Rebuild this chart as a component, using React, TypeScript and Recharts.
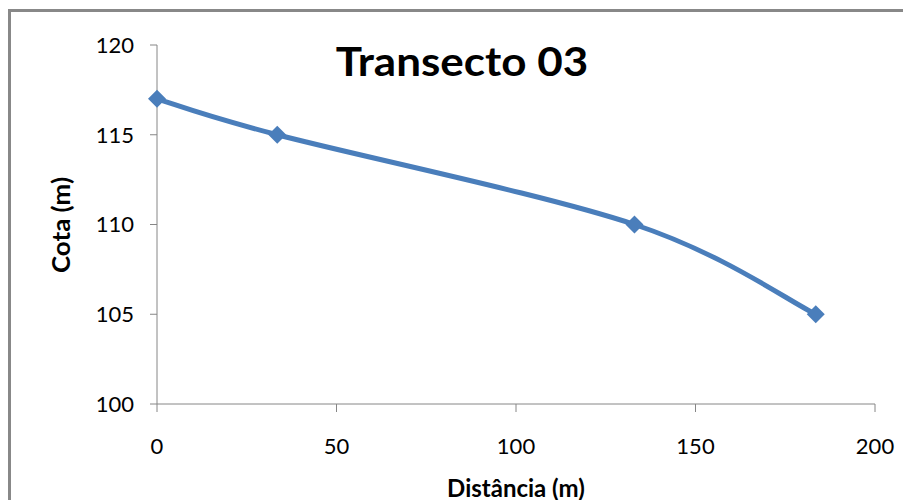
import { LineChart, Line, XAxis, YAxis } from 'recharts';

const distances = [0, 33.5, 133, 183.5];
const heights = [117, 115, 110, 105];
const xTicks = [0, 50, 100, 150, 200];
const yTicks = [100, 105, 110, 115, 120];

const data = distances.map((d, i) => ({ dist: d, cota: heights[i] }));

const BLUE = '#4a7ebb';
const AXIS = '#868686';
const FONT = 'Lato, "Liberation Sans", sans-serif';

// Catmull-Rom style smoothing (like a spreadsheet "smoothed line")
const smoothCurve = (context: any) => {
    let pts: number[][] = [];
    return {
        areaStart() {},
        areaEnd() {},
        lineStart() {
            pts = [];
        },
        point(x: number, y: number) {
            pts.push([+x, +y]);
        },
        lineEnd() {
            if (!pts.length) return;
            context.moveTo(pts[0][0], pts[0][1]);
            for (let i = 0; i < pts.length - 1; i++) {
                const p0 = pts[i - 1] || pts[i];
                const p1 = pts[i];
                const p2 = pts[i + 1];
                const p3 = pts[i + 2] || p2;
                context.bezierCurveTo(
                    p1[0] + (p2[0] - p0[0]) / 6,
                    p1[1] + (p2[1] - p0[1]) / 6,
                    p2[0] - (p3[0] - p1[0]) / 6,
                    p2[1] - (p3[1] - p1[1]) / 6,
                    p2[0],
                    p2[1]
                );
            }
        },
    };
};

const Diamond = (props: any) => {
    const { cx, cy } = props;
    if (cx == null || cy == null) return null;
    const r = 9;
    return <polygon points={`${cx},${cy - r} ${cx + r},${cy} ${cx},${cy + r} ${cx - r},${cy}`} fill={BLUE} />;
};

export default function App() {
    return (
        <div style={{ position: 'absolute', left: 0, top: 0, width: 903, height: 500, overflow: 'hidden', background: '#fff', fontFamily: FONT }}>
            <div style={{ position: 'absolute', left: 8, top: 9, width: 920, height: 520, borderLeft: '3px solid #888', borderTop: '3px solid #888' }} />
            <LineChart
                width={903}
                height={500}
                data={data}
                margin={{ top: 45, right: 28, bottom: 0, left: 77 }}
                style={{ position: 'absolute', left: 0, top: 0 }}
            >
                <XAxis
                    dataKey="dist"
                    type="number"
                    domain={[0, 200]}
                    ticks={xTicks}
                    stroke={AXIS}
                    tickSize={8}
                    tickMargin={26}
                    tick={{ fill: '#000', fontSize: 22, fontFamily: FONT }}
                    height={96}
                />
                <YAxis
                    dataKey="cota"
                    type="number"
                    domain={[100, 120]}
                    ticks={yTicks}
                    stroke={AXIS}
                    tickSize={7}
                    tickMargin={16}
                    tick={{ fill: '#000', fontSize: 22, fontFamily: FONT }}
                    width={80}
                />
                <Line
                    type={smoothCurve as any}
                    dataKey="cota"
                    stroke={BLUE}
                    strokeWidth={5}
                    dot={<Diamond />}
                    activeDot={false}
                    isAnimationActive={false}
                />
            </LineChart>
            <div style={{ position: 'absolute', left: 462, top: 61, transform: 'translate(-50%, -50%) scaleX(1.1)', fontSize: 40, fontWeight: 700, whiteSpace: 'nowrap' }}>
                Transecto 03
            </div>
            <div style={{ position: 'absolute', left: 60, top: 225, transform: 'translate(-50%, -50%) rotate(-90deg) scaleX(1.08)', fontSize: 24, fontWeight: 700, whiteSpace: 'nowrap' }}>
                Cota (m)
            </div>
            <div style={{ position: 'absolute', left: 516, top: 487, transform: 'translate(-50%, -50%)', fontSize: 24, fontWeight: 700, whiteSpace: 'nowrap' }}>
                Distância (m)
            </div>
        </div>
    );
}
